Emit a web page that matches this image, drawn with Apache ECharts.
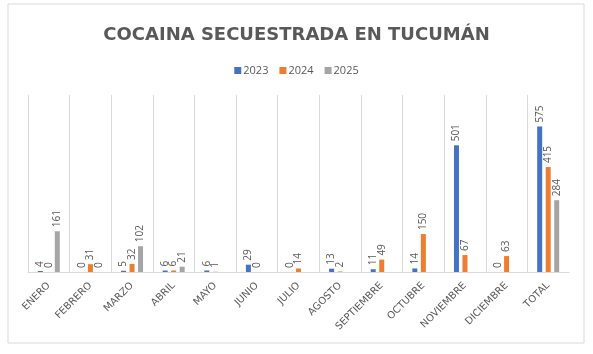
<!DOCTYPE html>
<html>
<head>
<meta charset="utf-8">
<script src="https://cdn.jsdelivr.net/npm/echarts@6/dist/echarts.min.js"></script>
<style>
  html, body { margin: 0; padding: 0; background: #fff; }
  #chart { width: 593px; height: 354px; }
</style>
</head>
<body>
<div id="chart"></div>
<script>
  // meses + total
  var categories = ['ENERO', 'FEBRERO', 'MARZO', 'ABRIL', 'MAYO', 'JUNIO', 'JULIO', 'AGOSTO', 'SEPTIEMBRE', 'OCTUBRE', 'NOVIEMBRE', 'DICIEMBRE', 'TOTAL'];
  var values2023 = [4, 0, 5, 6, 6, 29, 0, 13, 11, 14, 501, 0, 575];
  var values2024 = [0, 31, 32, 6, 1, 0, 14, 2, 49, 150, 67, 63, 415];
  var values2025 = [161, 0, 102, 21, null, null, null, null, null, null, null, null, 284];
  var seriesNames = ['2023', '2024', '2025'];
  var colorList = ['#4472c4', '#ed7d31', '#a5a5a5'];

  var chart = echarts.init(document.getElementById('chart'));

  var dataList = [values2023, values2024, values2025];
  var series = [];
  for (var i = 0; i < dataList.length; i++) {
    series.push({
      type: 'bar',
      name: seriesNames[i],
      barWidth: 5,
      barGap: '70%',
      itemStyle: { color: colorList[i] },
      label: {
        show: true,
        position: 'top',
        rotate: 90,
        align: 'left',
        verticalAlign: 'middle',
        distance: 4,
        color: '#595959',
        fontSize: 10,
        fontFamily: 'Open Sans'
      },
      data: dataList[i]
    });
  }

  var option = {
    animation: false,
    title: {
      text: 'COCAINA SECUESTRADA EN TUCUMÁN',
      left: 'center',
      top: 21,
      textStyle: {
        color: '#595959',
        fontSize: 18,
        fontWeight: 'bold',
        fontFamily: 'DejaVu Sans'
      }
    },
    legend: {
      data: seriesNames,
      top: 60,
      left: 'center',
      itemWidth: 7,
      itemHeight: 7,
      itemGap: 11,
      icon: 'rect',
      textStyle: { color: '#595959', fontSize: 11, fontFamily: 'Open Sans', padding: [0, 0, 0, -3] }
    },
    grid: {
      left: 28,
      right: 24,
      top: 95,
      bottom: 82
    },
    xAxis: {
      type: 'category',
      data: categories,
      axisLine: { lineStyle: { color: '#d9d9d9' } },
      axisTick: { show: false },
      splitLine: { show: true, showMaxLine: false, lineStyle: { color: '#d9d9d9' } },
      axisLabel: {
        rotate: 45,
        interval: 0,
        color: '#595959',
        fontSize: 10,
        fontFamily: 'DejaVu Sans',
        margin: 12
      }
    },
    yAxis: {
      type: 'value',
      min: 0,
      max: 700,
      interval: 100,
      show: false,
      splitLine: { show: false }
    },
    graphic: [{
      type: 'rect',
      shape: { x: 8, y: 4, width: 576, height: 339 },
      style: { fill: 'none', stroke: '#d9d9d9', lineWidth: 1 },
      silent: true
    }],
    series: series
  };

  chart.setOption(option);
</script>
</body>
</html>
